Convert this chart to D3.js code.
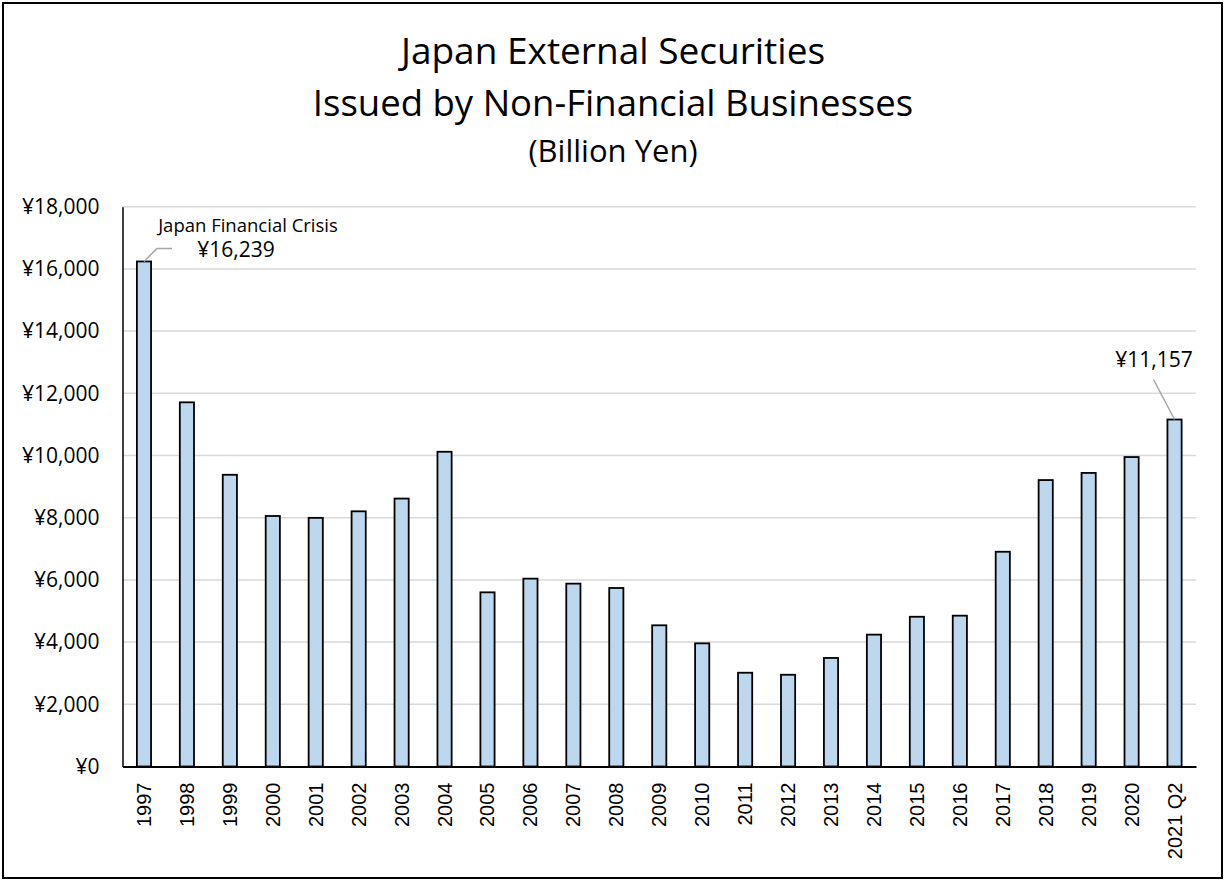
<!DOCTYPE html>
<html>
<head>
<meta charset="utf-8">
<script src="https://cdn.jsdelivr.net/npm/d3@7"></script>
<style>
  html, body { margin: 0; padding: 0; background: #fff; }
  svg { display: block; }
  text { font-variant-ligatures: none; }
</style>
</head>
<body>
<svg id="chart" width="1225" height="881"></svg>
<script>
// Yearly issuance, billion yen
const categories = ["1997","1998","1999","2000","2001","2002","2003","2004","2005","2006","2007","2008","2009","2010","2011","2012","2013","2014","2015","2016","2017","2018","2019","2020","2021 Q2"];
const values = [16239, 11710, 9380, 8055, 7995, 8205, 8615, 10120, 5600, 6040, 5880, 5740, 4540, 3960, 3015, 2950, 3490, 4240, 4815, 4850, 6905, 9210, 9440, 9950, 11157];
const yTicks = [0, 2000, 4000, 6000, 8000, 10000, 12000, 14000, 16000, 18000];
const titleLines = ["Japan External Securities", "Issued by Non-Financial Businesses", "(Billion Yen)"];
const callouts = [
  { category: "1997", lines: ["Japan Financial Crisis", "¥16,239"] },
  { category: "2021 Q2", lines: ["¥11,157"] }
];

const W = 1225, H = 881;
const plot = { left: 122.5, right: 1196, top: 206.7, bottom: 766.5 };
const uiFont = "'Open Sans', Lato, sans-serif";
const svg = d3.select("#chart");

// outer frame
svg.append("rect")
  .attr("x", 3).attr("y", 3).attr("width", W - 6).attr("height", H - 6)
  .attr("fill", "#fff").attr("stroke", "#000").attr("stroke-width", 2);

const x = d3.scaleBand().domain(categories)
  .range([plot.left, plot.right]).paddingInner(0.67).paddingOuter(0.335);
const y = d3.scaleLinear().domain([0, 18000]).range([plot.bottom, plot.top]);

// title
const title = svg.append("g").attr("font-family", uiFont).attr("fill", "#000").attr("text-anchor", "middle");
title.append("text").attr("x", 613).attr("y", 64).attr("font-size", 37).text(titleLines[0]);
title.append("text").attr("x", 613).attr("y", 116).attr("font-size", 36.5).text(titleLines[1]);
title.append("text").attr("x", 613).attr("y", 162).attr("font-size", 31).text(titleLines[2]);

// horizontal gridlines
svg.append("g").selectAll("line").data(yTicks.filter(d => d > 0)).join("line")
  .attr("x1", plot.left).attr("x2", plot.right)
  .attr("y1", d => y(d)).attr("y2", d => y(d))
  .attr("stroke", "#d9d9d9").attr("stroke-width", 1.5);

// y axis
const yAxis = svg.append("g").attr("transform", `translate(${plot.left},0)`)
  .call(d3.axisLeft(y).tickValues(yTicks).tickSize(0).tickPadding(23)
    .tickFormat(d => "¥" + d3.format(",")(d)));
yAxis.select(".domain").attr("stroke", "#000").attr("stroke-width", 1.5);
yAxis.selectAll("text").attr("font-family", uiFont).attr("font-size", 21).attr("fill", "#000");

// bars
svg.append("g").selectAll("rect").data(values).join("rect")
  .attr("x", (d, i) => x(categories[i]))
  .attr("y", d => y(d))
  .attr("width", x.bandwidth())
  .attr("height", d => y(0) - y(d))
  .attr("fill", "#bdd7ee")
  .attr("stroke", "#000").attr("stroke-width", 1.8);

// x axis
const xAxis = svg.append("g").attr("transform", `translate(0,${plot.bottom})`)
  .call(d3.axisBottom(x).tickSize(0).tickPadding(0));
xAxis.select(".domain").attr("stroke", "#000").attr("stroke-width", 1.8);
xAxis.selectAll("text")
  .attr("font-family", "'Liberation Sans', Arial, sans-serif").attr("font-size", 20).attr("fill", "#000")
  .attr("transform", "translate(0,16) rotate(-90)")
  .attr("text-anchor", "end").attr("dx", 0).attr("dy", "0.35em").attr("x", 0).attr("y", 0);

// callouts with leader lines
const ann = svg.append("g").attr("font-family", uiFont).attr("fill", "#000");
{
  const c = callouts[0];
  const i = categories.indexOf(c.category);
  const bx = x(c.category) + x.bandwidth() / 2;
  const by = y(values[i]);
  ann.append("path")
    .attr("d", `M${bx},${by} L${bx + 13},${by - 13} L${bx + 28},${by - 13}`)
    .attr("fill", "none").attr("stroke", "#a6a6a6").attr("stroke-width", 1.5);
  ann.append("text").attr("x", 248).attr("y", 231.5).attr("text-anchor", "middle")
    .attr("font-size", 18.5).text(c.lines[0]);
  ann.append("text").attr("x", 236).attr("y", 256.5).attr("text-anchor", "middle")
    .attr("font-size", 21).text(c.lines[1]);
}
{
  const c = callouts[1];
  const i = categories.indexOf(c.category);
  const bx = x(c.category) + x.bandwidth() / 2;
  const by = y(values[i]);
  ann.append("line")
    .attr("x1", bx).attr("y1", by).attr("x2", bx - 21).attr("y2", by - 40)
    .attr("stroke", "#a6a6a6").attr("stroke-width", 1.5);
  ann.append("text").attr("x", 1154).attr("y", 367).attr("text-anchor", "middle")
    .attr("font-size", 21).text(c.lines[0]);
}
</script>
</body>
</html>
